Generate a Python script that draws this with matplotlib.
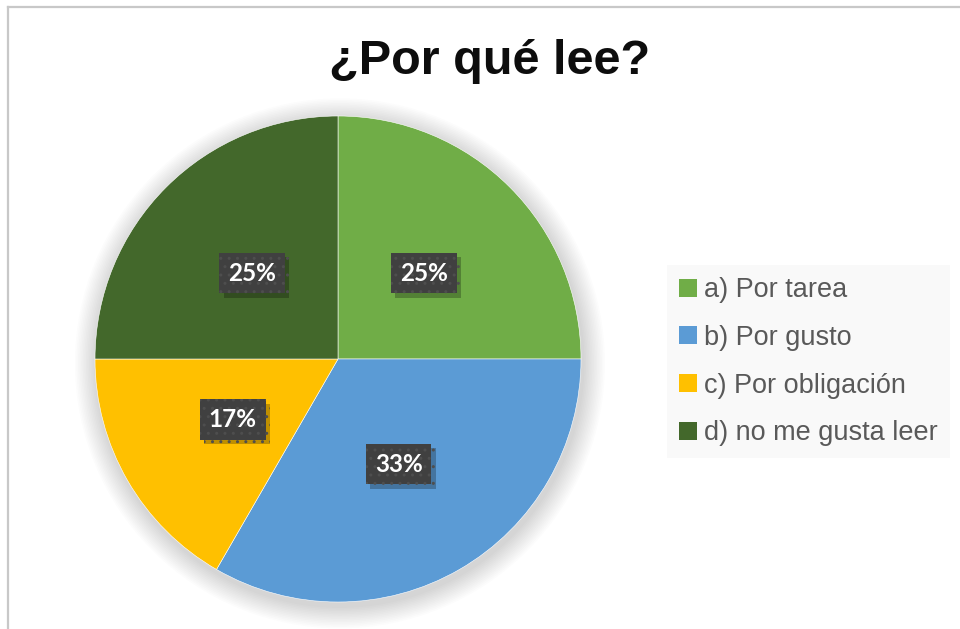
import matplotlib
matplotlib.use("Agg")
import matplotlib.pyplot as plt
from matplotlib.patches import Circle
from matplotlib.lines import Line2D
import matplotlib.patheffects as pe

# data
categories = ["a) Por tarea", "b) Por gusto", "c) Por obligación", "d) no me gusta leer"]
counts = [3, 4, 2, 3]
colors = ["#70AD47", "#5B9BD5", "#FFC000", "#43682B"]
title = "¿Por qué lee?"

fig = plt.figure(figsize=(9.6, 6.29), dpi=100)
fig.patch.set_facecolor("white")

# chart border (only top and left visible in the crop)
fig.add_artist(Line2D([8/960, 8/960], [0, 1 - 7/629], transform=fig.transFigure,
                      color="#c8c8c8", lw=1.6))
fig.add_artist(Line2D([8/960, 1], [1 - 7/629, 1 - 7/629], transform=fig.transFigure,
                      color="#c8c8c8", lw=1.6))

ax = fig.add_axes([95/960, 27/629, 486/960, 486/629])

# soft shadow behind the pie
for i in range(14):
    r = 1.0 + 0.0065 * (14 - i)
    ax.add_patch(Circle((0.008, -0.018), r, color="black", alpha=0.011, lw=0,
                        zorder=0, clip_on=False))

wedges, texts, autotexts = ax.pie(
    counts, colors=colors, startangle=90, counterclock=False,
    autopct=lambda p: "%d%%" % round(p), pctdistance=0.5,
    wedgeprops=dict(edgecolor="white", linewidth=0.4),
    textprops=dict(color="white", fontsize=17.5, fontweight="bold", family=["Lato", "DejaVu Sans"]),
)
ax.set_xlim(-1, 1)
ax.set_ylim(-1, 1)
ax.set_aspect("equal")

for t in autotexts:
    t.set_bbox(dict(boxstyle="square,pad=0.36", fc="#404040", ec="#4e4e4e", lw=0, hatch=".."))
    t.get_bbox_patch().set_path_effects([
        pe.SimplePatchShadow(offset=(3, -3), shadow_rgbFace="black", alpha=0.25),
        pe.Normal()])
    t.set_zorder(4)

fig.text(490/960, 1 - 62/629, title, ha="center", va="center", fontsize=35,
         fontweight="bold", color="#0d0d0d", family=["Liberation Sans", "DejaVu Sans"])

leg = fig.legend(wedges, categories, loc="upper left", bbox_to_anchor=(667/960, 1 - 265/629),
                 bbox_transform=fig.transFigure, frameon=True, fancybox=False,
                 prop=dict(family=["Liberation Sans", "DejaVu Sans"], size=19.5),
                 handlelength=0.65, handleheight=0.65, handletextpad=0.25,
                 labelspacing=0.8, borderpad=0.45, borderaxespad=0)
leg.get_frame().set_facecolor("#f8f8f8")
leg.get_frame().set_edgecolor("none")
for txt in leg.get_texts():
    txt.set_color("#595959")
for h in leg.legend_handles:
    h.set_edgecolor("none")

fig.savefig("out.png", dpi=100)
